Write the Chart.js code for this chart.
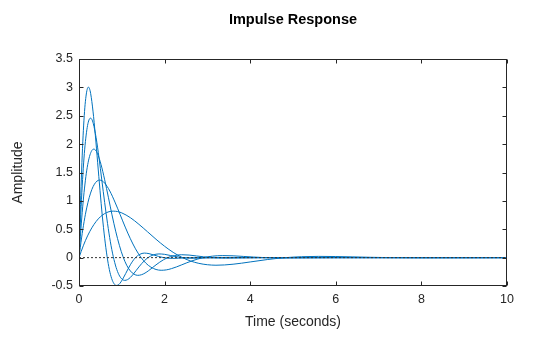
<!DOCTYPE html>
<html>
<head>
<meta charset="utf-8">
<script src="https://cdn.jsdelivr.net/npm/chart.js@4.4.1/dist/chart.umd.min.js"></script>
<style>
  html, body { margin: 0; padding: 0; background: #fff; }
  #wrap { width: 560px; height: 337px; }
</style>
</head>
<body>
<div id="wrap"><canvas id="chart" width="560" height="337"></canvas></div>
<script>
// Five impulse responses (time in s, amplitude).
const tA = [0, 0.027, 0.055, 0.082, 0.109, 0.136, 0.164, 0.191, 0.218, 0.245, 0.273, 0.327, 0.382, 0.436, 0.491, 0.545, 0.6, 0.655, 0.709, 0.764, 0.818, 0.873, 0.927, 0.982, 1.036, 1.091, 1.2, 1.309, 1.418, 1.527, 1.636, 1.745, 1.855, 1.964, 2.182, 2.455, 2.727, 10];
const yA = [0, 0.763, 1.404, 1.927, 2.336, 2.640, 2.846, 2.965, 3.005, 2.977, 2.890, 2.582, 2.154, 1.672, 1.184, 0.732, 0.342, 0.025, -0.211, -0.370, -0.459, -0.490, -0.475, -0.427, -0.358, -0.280, -0.126, -0.008, 0.057, 0.080, 0.070, 0.047, 0.022, 0.002, -0.013, -0.006, 0, 0];

const tB = [0, 0.033, 0.067, 0.1, 0.133, 0.167, 0.2, 0.233, 0.267, 0.3, 0.333, 0.4, 0.467, 0.533, 0.6, 0.667, 0.733, 0.8, 0.867, 0.933, 1.0, 1.067, 1.133, 1.2, 1.267, 1.333, 1.467, 1.6, 1.733, 1.867, 2.0, 2.133, 2.267, 2.4, 2.667, 3.0, 3.333, 10];
const yB = [0, 0.624, 1.149, 1.576, 1.911, 2.160, 2.329, 2.426, 2.458, 2.436, 2.365, 2.113, 1.762, 1.368, 0.969, 0.599, 0.279, 0.021, -0.173, -0.302, -0.376, -0.401, -0.388, -0.349, -0.293, -0.229, -0.103, -0.007, 0.047, 0.065, 0.058, 0.038, 0.018, 0.002, -0.010, -0.005, 0, 0];

const tC = [0, 0.043, 0.086, 0.129, 0.171, 0.214, 0.257, 0.3, 0.343, 0.386, 0.429, 0.514, 0.6, 0.686, 0.771, 0.857, 0.943, 1.029, 1.114, 1.2, 1.286, 1.371, 1.457, 1.543, 1.629, 1.714, 1.886, 2.057, 2.229, 2.4, 2.571, 2.743, 2.914, 3.086, 3.429, 3.857, 4.286, 10];
const yC = [0, 0.485, 0.894, 1.226, 1.486, 1.680, 1.811, 1.887, 1.912, 1.895, 1.839, 1.643, 1.371, 1.064, 0.754, 0.466, 0.217, 0.016, -0.134, -0.235, -0.292, -0.312, -0.302, -0.272, -0.228, -0.178, -0.080, -0.005, 0.036, 0.051, 0.045, 0.030, 0.014, 0.001, -0.008, -0.004, 0, 0];

const tD = [0, 0.06, 0.12, 0.18, 0.24, 0.3, 0.36, 0.42, 0.48, 0.54, 0.6, 0.72, 0.84, 0.96, 1.08, 1.2, 1.32, 1.44, 1.56, 1.68, 1.8, 1.92, 2.04, 2.16, 2.28, 2.4, 2.64, 2.88, 3.12, 3.36, 3.6, 3.84, 4.08, 4.32, 4.8, 5.4, 6.0, 10];
const yD = [0, 0.347, 0.638, 0.876, 1.062, 1.200, 1.294, 1.348, 1.366, 1.353, 1.314, 1.174, 0.979, 0.760, 0.538, 0.333, 0.155, 0.012, -0.096, -0.168, -0.209, -0.223, -0.216, -0.194, -0.163, -0.127, -0.057, -0.004, 0.026, 0.036, 0.032, 0.021, 0.010, 0.001, -0.006, -0.003, 0, 0];

const tE = [0, 0.1, 0.2, 0.3, 0.4, 0.5, 0.6, 0.7, 0.8, 0.9, 1.0, 1.2, 1.4, 1.6, 1.8, 2.0, 2.2, 2.4, 2.6, 2.8, 3.0, 3.2, 3.4, 3.6, 3.8, 4.0, 4.4, 4.8, 5.2, 5.6, 6.0, 6.4, 6.8, 7.2, 8.0, 9.0, 10];
const yE = [0, 0.208, 0.383, 0.525, 0.637, 0.720, 0.776, 0.809, 0.819, 0.812, 0.788, 0.704, 0.587, 0.456, 0.323, 0.200, 0.093, 0.007, -0.058, -0.101, -0.125, -0.134, -0.129, -0.116, -0.098, -0.076, -0.034, -0.002, 0.016, 0.022, 0.019, 0.013, 0.006, 0.001, -0.003, -0.002, 0];

const zeroT = [0, 10];
const zeroY = [0, 0];

const xTicks = [0, 2, 4, 6, 8, 10];
const yTicks = [-0.5, 0, 0.5, 1, 1.5, 2, 2.5, 3, 3.5];

const LINE = '#0072BD';
const AXIS = '#262626';
const FONT = "'Liberation Sans', Arial, sans-serif";

const pts = (xs, ys) => xs.map((x, i) => ({ x, y: ys[i] }));

const curve = (xs, ys) => ({
    data: pts(xs, ys),
    borderColor: LINE,
    borderWidth: 1,
    pointRadius: 0,
    fill: false,
    cubicInterpolationMode: 'monotone',
});

// MATLAB-style box with inward ticks on all four sides
const boxPlugin = {
    id: 'box',
    afterDatasetsDraw(chart) {
        const { ctx, chartArea: a, scales: { x, y } } = chart;
        const L = 4;
        const l = Math.round(a.left) + 0.5, r = Math.round(a.right) - 0.5;
        const t = Math.round(a.top) + 0.5, b = Math.round(a.bottom) - 0.5;
        ctx.save();
        ctx.strokeStyle = AXIS;
        ctx.lineWidth = 1;
        ctx.beginPath();
        x.ticks.forEach(tk => {
            const px = Math.round(x.getPixelForValue(tk.value)) + 0.5;
            ctx.moveTo(px, b); ctx.lineTo(px, b - L);
            ctx.moveTo(px, t); ctx.lineTo(px, t + L);
        });
        y.ticks.forEach(tk => {
            const py = Math.round(y.getPixelForValue(tk.value)) + 0.5;
            ctx.moveTo(l, py); ctx.lineTo(l + L, py);
            ctx.moveTo(r, py); ctx.lineTo(r - L, py);
        });
        ctx.stroke();
        ctx.strokeRect(l, t, r - l, b - t);
        ctx.restore();
    }
};

new Chart(document.getElementById('chart'), {
    type: 'line',
    data: {
        datasets: [
            {
                data: pts(zeroT, zeroY),
                borderColor: '#333',
                borderWidth: 1,
                borderDash: [2, 2],
                pointRadius: 0,
                fill: false,
            },
            curve(tA, yA),
            curve(tB, yB),
            curve(tC, yC),
            curve(tD, yD),
            curve(tE, yE),
        ]
    },
    options: {
        responsive: false,
        animation: false,
        devicePixelRatio: 1,
        layout: { padding: { left: 0, right: 53, top: 0, bottom: 0 } },
        plugins: {
            legend: { display: false },
            tooltip: { enabled: false },
            title: {
                display: true,
                fullSize: false,
                text: 'Impulse Response',
                color: '#000',
                font: { family: FONT, size: 14.5, weight: 'bold' },
                padding: { top: 11, bottom: 30.6 },
            },
        },
        scales: {
            x: {
                type: 'linear',
                min: 0,
                max: 10,
                afterBuildTicks: s => { s.ticks = xTicks.map(v => ({ value: v })); },
                afterFit: s => { s.height = 51; },
                grid: { display: false, drawTicks: false },
                border: { display: false },
                ticks: { color: AXIS, padding: 6, font: { family: FONT, size: 12.5 }, callback: v => String(v) },
                title: {
                    display: true,
                    text: 'Time (seconds)',
                    color: AXIS,
                    font: { family: FONT, size: 14 },
                    padding: { top: 0, bottom: 6.6 },
                },
            },
            y: {
                type: 'linear',
                min: -0.5,
                max: 3.5,
                afterBuildTicks: s => { s.ticks = yTicks.map(v => ({ value: v })); },
                afterFit: s => { s.width = 79; },
                grid: { display: false, drawTicks: false },
                border: { display: false },
                ticks: { color: AXIS, padding: 6, font: { family: FONT, size: 12.5 }, callback: v => String(v) },
                title: {
                    display: true,
                    text: 'Amplitude',
                    color: AXIS,
                    font: { family: FONT, size: 14 },
                    padding: { top: 9.6, bottom: 0 },
                },
            },
        },
    },
    plugins: [boxPlugin],
});
</script>
</body>
</html>
